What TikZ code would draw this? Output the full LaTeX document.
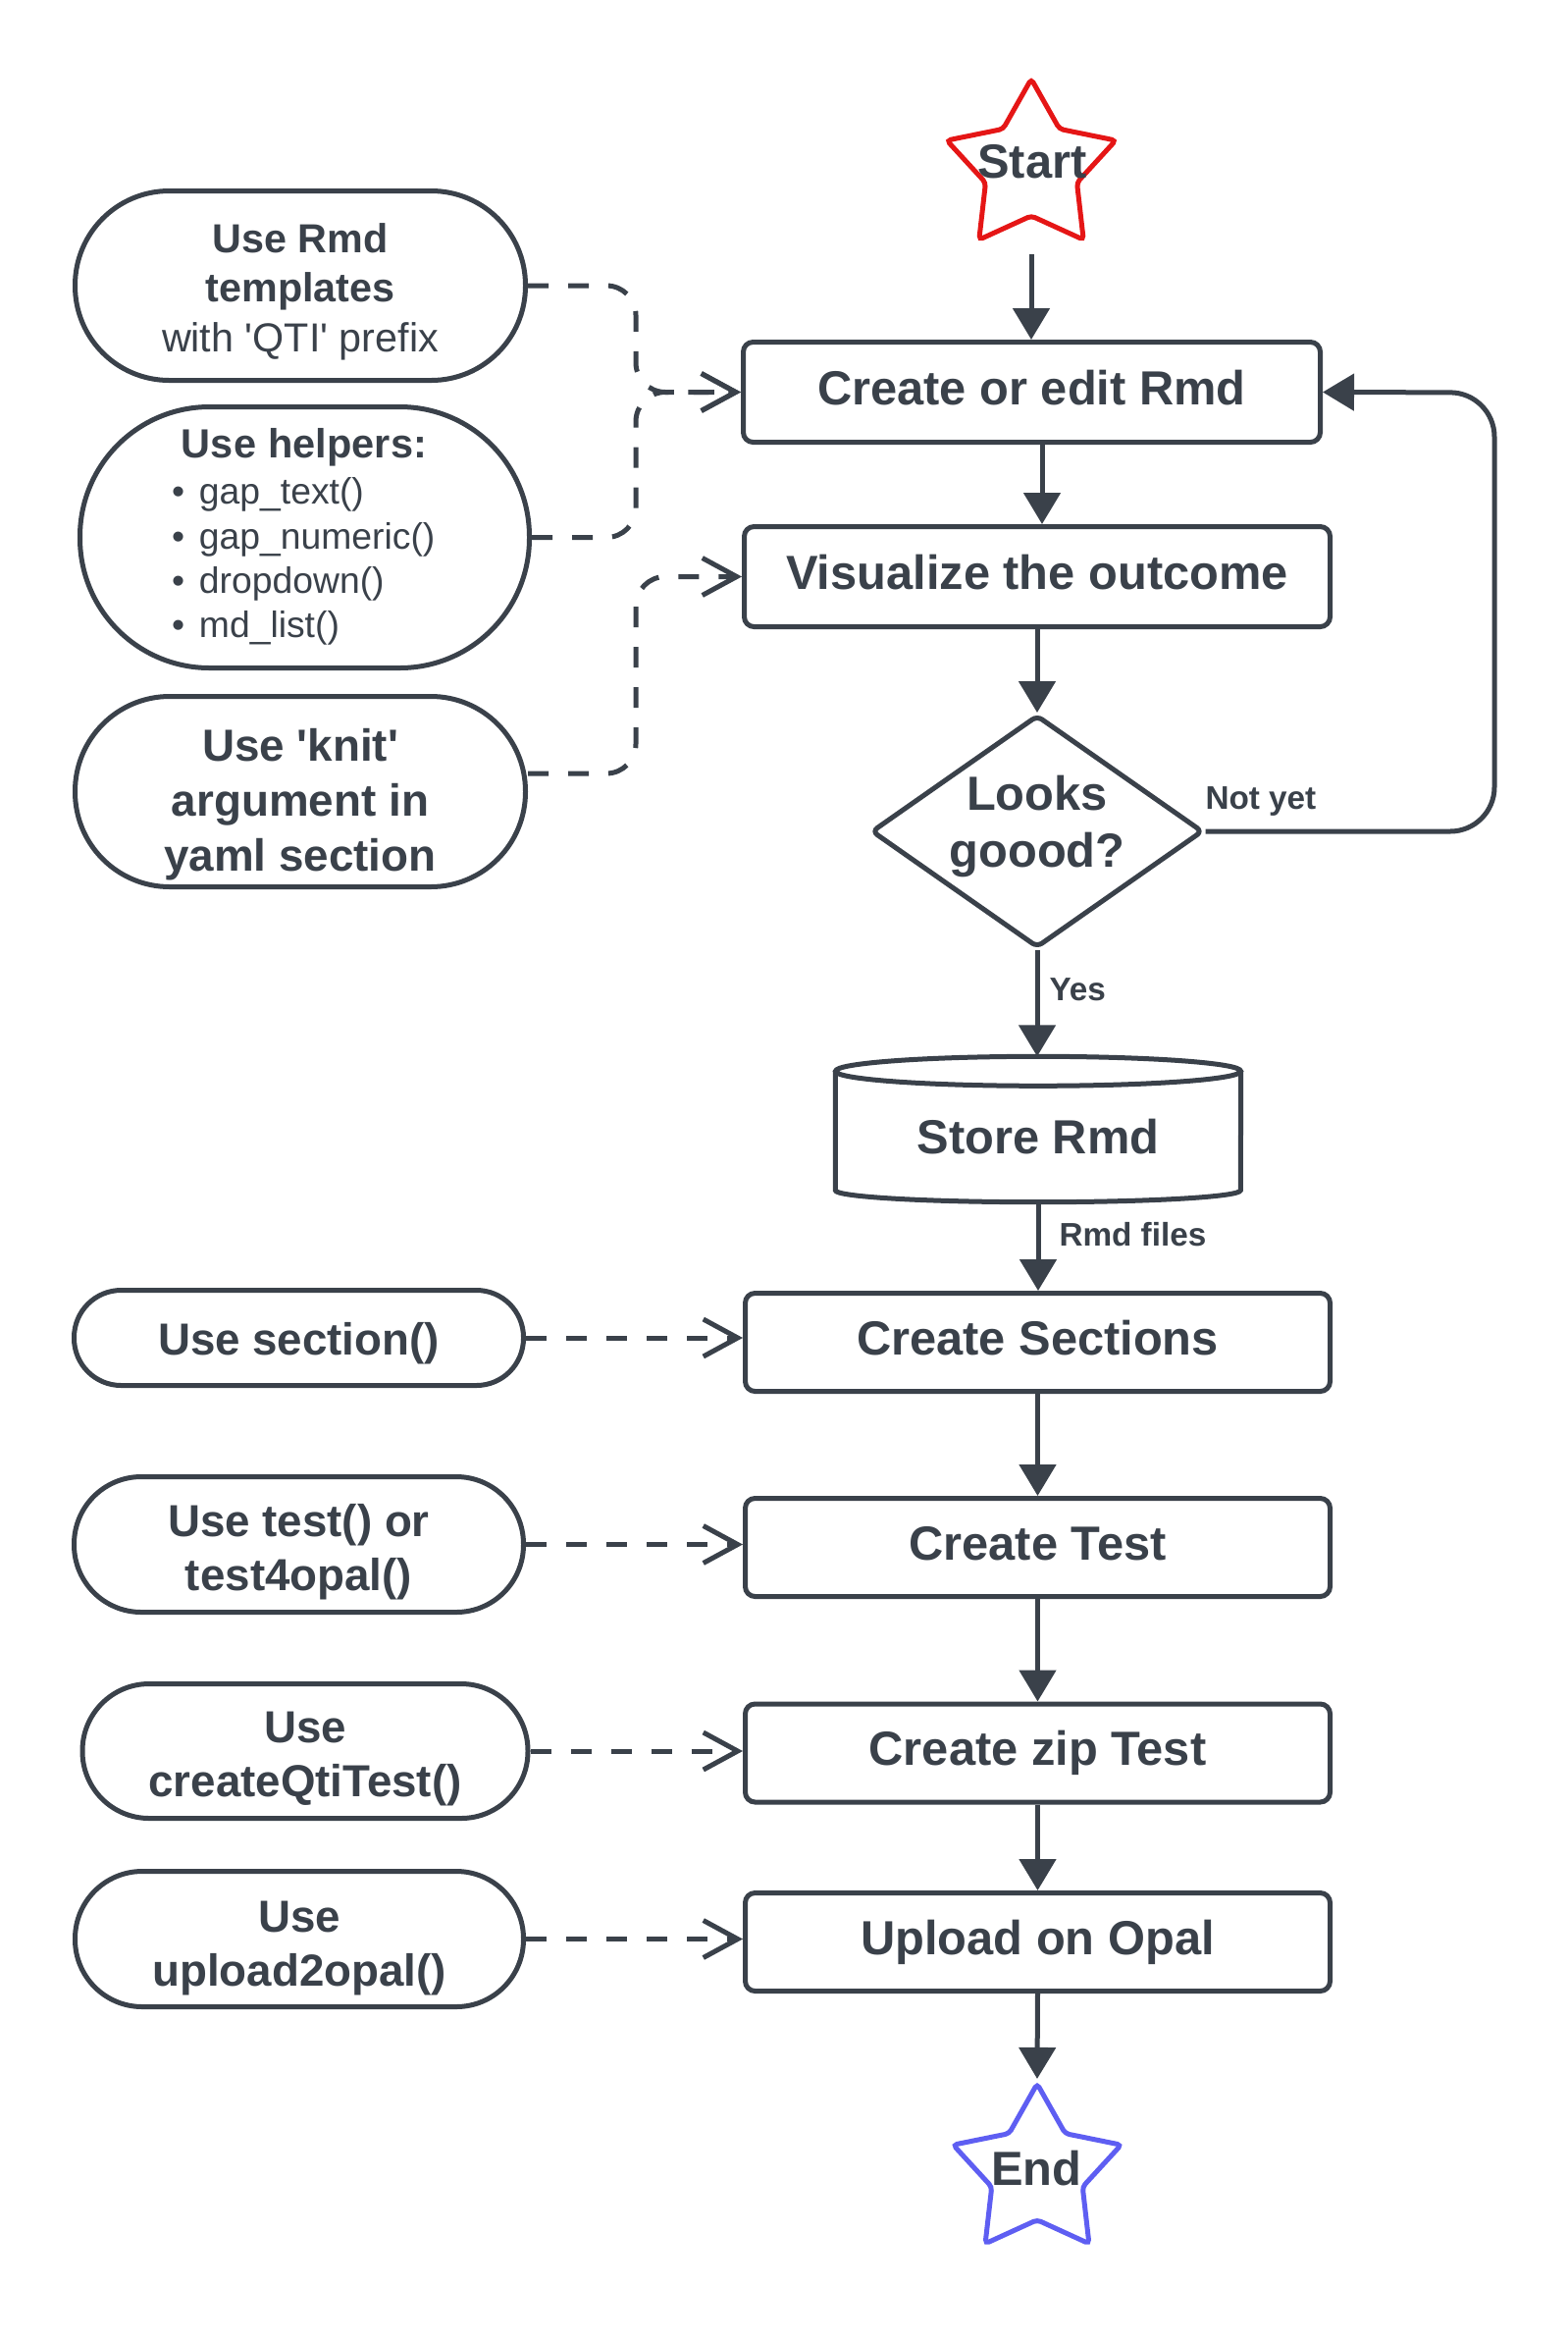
\documentclass[tikz,border=0pt]{standalone}
\usepackage{fontspec}
\setmainfont{Liberation Sans}
\usetikzlibrary{arrows.meta,shapes.geometric}
\definecolor{ink}{HTML}{3A414A}
\definecolor{startred}{HTML}{E51616}
\definecolor{endblue}{HTML}{5E5EF2}
\begin{document}
\begin{tikzpicture}[x=1pt,y=-1pt,
  every node/.style={text=ink},
  proc/.style={draw=ink, line width=5pt, rounded corners=10pt, inner sep=0pt,
    minimum width=596pt, minimum height=100pt,
    font=\fontsize{48.8}{58}\selectfont\bfseries, text height=35.5pt, text depth=10.5pt},
  oval/.style={draw=ink, line width=5pt, inner sep=0pt, minimum width=458pt},
  ovaltxt/.style={inner sep=0pt, align=center},
  smallfont/.style={font=\fontsize{45.7}{55}\selectfont\bfseries},
  bigtxt/.style={font=\fontsize{48.8}{58}\selectfont\bfseries, inner sep=0pt, align=center},
  lbl/.style={font=\fontsize{33.3}{40}\selectfont\bfseries, inner sep=0pt},
  arr/.style={draw=ink, line width=5pt, -{Triangle[length=32pt,width=37pt]}},
  dconn/.style={draw=ink, line width=5pt, dash pattern=on 21pt off 20pt,
    rounded corners=30pt, -{Straight Barb[length=35pt,width=38pt]}},
  starshape/.style={star, star points=5, star point ratio=1.85, inner sep=0pt,
    line width=5pt, rounded corners=4pt}
]
\fill[white] (0,0) rectangle (1598,2383);
\useasboundingbox (0,0) rectangle (1598,2383);

% ---------- main column ----------
\node[starshape, draw=startred, minimum size=181pt] (start) at (1051,171) {};
\node[bigtxt] (starttxt) at (1052,165) {Start};
\node[proc, minimum width=588pt, minimum height=102pt] (create) at (1051.5,399.5) {Create or edit Rmd};
\node[proc, minimum width=597pt, minimum height=102pt] (visual) at (1057,587.5) {Visualize the outcome};
\node[diamond, draw=ink, line width=5pt, minimum width=338pt, minimum height=237pt,
      inner sep=0pt, rounded corners=6pt] (dec) at (1057,847) {};
\node[bigtxt] (dectxt) at (1057,841.5) {Looks\\goood?};
\node[inner sep=0pt, minimum width=413pt, minimum height=133pt,
      font=\fontsize{48.8}{58}\selectfont\bfseries] (store) at (1058,1158) {Store Rmd};
\draw[draw=ink, line width=5pt] (store.north) ellipse [x radius=206.5pt, y radius=15pt];
\draw[draw=ink, line width=5pt] (store.north west) -- ([yshift=12pt]store.south west)
   arc[start angle=180, end angle=360, x radius=206.5pt, y radius=12pt] -- (store.north east);
\node[proc] (sect) at (1057.5,1367.5) {Create Sections};
\node[proc] (ctest) at (1057.5,1576.5) {Create Test};
\node[proc] (zip) at (1057.5,1786) {Create zip Test};
\node[proc] (upload) at (1057.5,1978.5) {Upload on Opal};
\node[starshape, draw=endblue, minimum size=180pt] (endstar) at (1057,2213) {};
\node[bigtxt] (endtxt) at (1056.5,2209.5) {End};

% ---------- left column ----------
\node[oval, minimum width=459pt, minimum height=193pt, rounded corners=96pt] (tmpl) at (306,291) {};
\node[ovaltxt, font=\fontsize{41.3}{50.5}\selectfont\bfseries] (tmpltxt) at (306,297)
      {Use Rmd\\templates\\{\mdseries with \textquotesingle QTI\textquotesingle{} prefix}};
\node[oval, minimum width=458pt, minimum height=266pt, rounded corners=132pt] (help) at (310.5,547.5) {};
\node[inner sep=0pt, text width=270pt, align=left, font=\fontsize{37.3}{45.4}\selectfont] (helptxt) at (310,547)
      {{\noindent\centering\fontsize{41.5}{47}\selectfont\bfseries Use helpers:\par}\vspace{2pt}%
       \noindent\makebox[28pt][l]{•}gap\_text()\\
       \makebox[28pt][l]{•}gap\_numeric()\\
       \makebox[28pt][l]{•}dropdown()\\
       \makebox[28pt][l]{•}md\_list()\par};
\node[oval, minimum width=459pt, minimum height=194pt, rounded corners=96.5pt] (knit) at (306,806.5) {};
\node[ovaltxt, font=\fontsize{45.8}{56}\selectfont\bfseries] (knittxt) at (306,819.5)
      {Use \textquotesingle knit\textquotesingle\\argument in\\yaml section};
\node[oval, minimum height=97pt, rounded corners=48pt] (usesec) at (304.5,1363) {};
\node[ovaltxt, smallfont] (usesectxt) at (304.5,1369) {Use section()};
\node[oval, minimum height=138pt, rounded corners=68.5pt] (usetest) at (304.5,1573.5) {};
\node[ovaltxt, smallfont] (usetesttxt) at (304.5,1581) {Use test() or\\test4opal()};
\node[oval, minimum width=454pt, minimum height=137pt, rounded corners=68pt] (useqti) at (311,1784) {};
\node[ovaltxt, smallfont] (useqtitxt) at (311,1792) {Use\\createQtiTest()};
\node[oval, minimum width=457pt, minimum height=138pt, rounded corners=68.5pt] (useupl) at (305,1975.5) {};
\node[ovaltxt, smallfont] (useupltxt) at (305,1984.5) {Use\\upload2opal()};

% ---------- dashed connectors ----------
\coordinate (jn) at (648,400);
\coordinate (knitout) at ([yshift=18.5pt]knit.east);
\draw[dconn] (tmpl.east) -- (tmpl.east -| jn) |- (create.west);
\draw[dconn] (help.east) -- (help.east -| jn) |- (create.west);
\draw[dconn] (knitout) -- (knitout -| jn) |- (visual.west);
\draw[dconn] (usesec.east) -- (usesec.east -| sect.west);
\draw[dconn] (usetest.east) -- (usetest.east -| ctest.west);
\draw[dconn] (useqti.east) -- (useqti.east -| zip.west);
\draw[dconn] (useupl.east) -- (useupl.east -| upload.west);

% ---------- solid connectors ----------
\coordinate (startout) at (1051,259);
\draw[arr] (startout) -- (startout |- create.north);
\coordinate (cvx) at ([xshift=10.5pt]create.south);
\draw[arr] (cvx) -- (cvx |- visual.north);
\draw[arr] (visual.south) -- (dec.north);
\coordinate (storetop) at ([yshift=15pt]store.north);
\draw[arr] (dec.south) node[lbl, anchor=base west, xshift=10pt, yshift=-51pt] {Yes} -- (dec.south |- storetop);
\draw[arr] (store.south) node[lbl, anchor=base west, xshift=19pt, yshift=-44.5pt] {Rmd files} -- (store.south |- sect.north);
\draw[arr] (sect.south) -- (ctest.north);
\draw[arr] (ctest.south) -- (zip.north);
\draw[arr] (zip.south) -- (upload.north);
\draw[arr] (upload.south) -- (endstar.north);
\coordinate (loopc) at (1523,400);
\draw[arr, rounded corners=45pt] (dec.east) node[lbl, anchor=base west, xshift=-2.5pt, yshift=23pt] {Not yet} -| (loopc) -- (create.east);
\end{tikzpicture}
\end{document}
